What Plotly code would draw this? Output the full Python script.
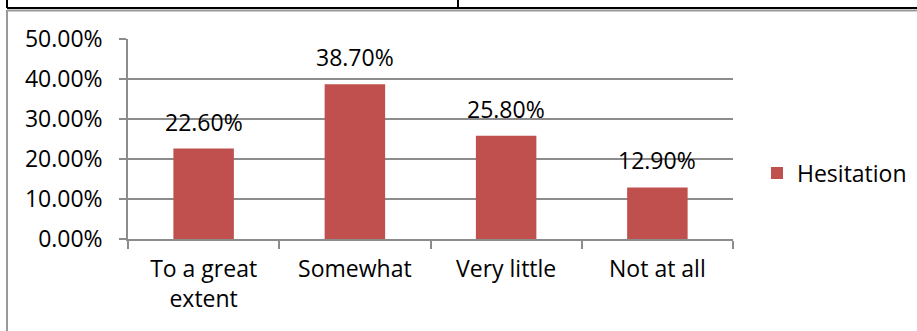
import plotly.graph_objects as go

categories = ["To a great<br>extent", "Somewhat", "Very little", "Not at all"]
values = [0.226, 0.387, 0.258, 0.129]
label_texts = ["22.60%", "38.70%", "25.80%", "12.90%"]
series_name = "Hesitation"
y_tickvals = [0, 0.1, 0.2, 0.3, 0.4, 0.5]

W, H = 917, 331
L, R, T, B = 128, 184, 39, 92
pw, ph = W - L - R, H - T - B

def px(x):
    return (x - L) / pw

def py(y):
    return (H - B - y) / ph

FONT = "Open Sans"
FS = 23
GRAY = "#8c8c8c"

fig = go.Figure()
fig.add_trace(go.Bar(
    x=categories, y=values, name=series_name,
    marker=dict(color="#C0504D", line=dict(width=0)),
    showlegend=True,
))

for c, v, t in zip(categories, values, label_texts):
    fig.add_annotation(x=c, y=v, text=t, showarrow=False, xref="x", yref="y",
                       yanchor="middle", yshift=27,
                       font=dict(family=FONT, size=FS, color="#000"))

# decorative borders (table lines + chart frame)
shapes = [
    dict(type="line", xref="paper", yref="paper", x0=px(7), x1=px(917), y0=py(8), y1=py(8),
         line=dict(color="#000", width=2)),
    dict(type="line", xref="paper", yref="paper", x0=px(7), x1=px(7), y0=py(0), y1=py(8),
         line=dict(color="#000", width=2)),
    dict(type="line", xref="paper", yref="paper", x0=px(458), x1=px(458), y0=py(0), y1=py(8),
         line=dict(color="#000", width=2)),
    dict(type="line", xref="paper", yref="paper", x0=px(7), x1=px(917), y0=py(10.5), y1=py(10.5),
         line=dict(color="#999", width=2)),
    dict(type="line", xref="paper", yref="paper", x0=px(7), x1=px(7), y0=py(10), y1=py(331),
         line=dict(color="#999", width=2)),
]

fig.update_layout(
    width=W, height=H,
    margin=dict(l=L, r=R, t=T, b=B, pad=0, autoexpand=False),
    paper_bgcolor="white", plot_bgcolor="white",
    font=dict(family=FONT, size=FS, color="#000"),
    bargap=0.6,
    shapes=shapes,
    legend=dict(x=px(757), y=py(173), xanchor="left", yanchor="middle",
                font=dict(family=FONT, size=FS, color="#000"),
                itemwidth=30, bgcolor="rgba(0,0,0,0)"),
    xaxis=dict(type="category", showline=True, linecolor=GRAY, linewidth=1.5,
               ticks="outside", tickson="boundaries", ticklen=8, tickcolor=GRAY, tickwidth=1.5,
               showgrid=False, ticklabelstandoff=9,
               tickfont=dict(family=FONT, size=FS, color="#000")),
    yaxis=dict(range=[0, 0.5], tickvals=y_tickvals, tickformat=".2%",
               showline=True, linecolor=GRAY, linewidth=1.5,
               ticks="outside", ticklen=7, tickcolor=GRAY, tickwidth=1.5,
               showgrid=True, gridcolor=GRAY, gridwidth=1.5, zeroline=False,
               ticklabelstandoff=12,
               tickfont=dict(family=FONT, size=FS, color="#000")),
)

fig.write_html("out.html")
